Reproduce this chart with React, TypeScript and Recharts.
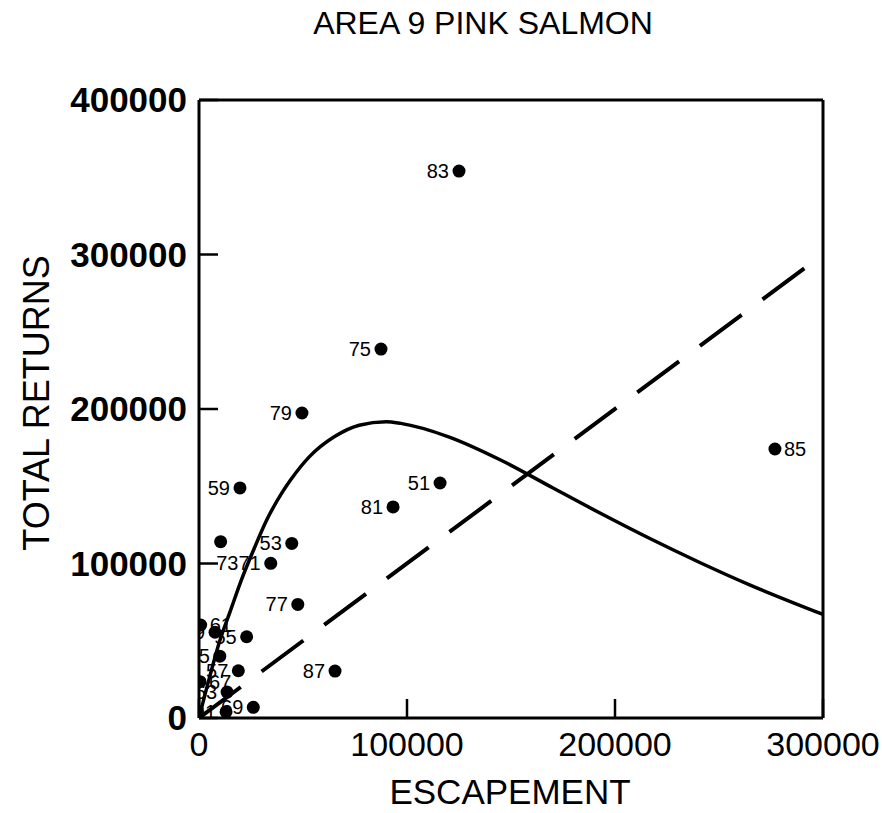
import { ComposedChart, Line, Scatter, XAxis, YAxis } from "recharts";

const FONT = '"Liberation Sans", Arial, Helvetica, sans-serif';
const TICK_LEN = 19;

// brood years (as printed next to each point)
const years = [
  "83", "75", "79", "85", "51", "81", "59", "", "53", "7371", "77", "87", "69",
  "61", "89", "55", "65", "57", "67", "91", "63",
];
const escapement = [
  125000, 87500, 49500, 276900, 115900, 93300, 19700, 10400, 44600, 34500, 47500, 65400, 26100,
  800, 7700, 22900, 10000, 18900, 500, 13000, 13500,
];
const totalReturns = [
  354000, 238800, 197400, 174100, 152100, 136600, 148900, 114100, 113000, 100100, 73500, 30400, 6900,
  60200, 55500, 52600, 40000, 30600, 23500, 4000, 16800,
];
// labels that sit to the right of their dot
const rightLabeled = ["85", "61", "67"];

// fitted stock-recruit curve
const curveEscapement = [
  0, 5000, 10000, 15000, 20000, 26000, 32500, 40000, 44000, 53000, 65000, 77000,
  90000, 97000, 120000, 145000, 170000, 193000, 217000, 241000, 265000, 300000,
];
const curveReturns = [
  0, 26000, 50000, 69000, 88000, 108000, 128000, 146000, 154000, 169000, 182000, 189500,
  191800, 190700, 182000, 167000, 149000, 132500, 116000, 100500, 86000, 67000,
];

// replacement line (returns = escapement)
const replacementEscapement = [0, 300000];

const xTicks = [0, 100000, 200000, 300000];
const yTicks = [0, 100000, 200000, 300000, 400000];

const points = years.map((year, i) => ({ s: escapement[i], r: totalReturns[i], year }));
const curve = curveEscapement.map((s, i) => ({ s, r: curveReturns[i] }));
const replacement = replacementEscapement.map((s) => ({ s, r: s }));

function BottomTick({ x, y, payload }: any) {
  return (
    <g>
      <line x1={x} y1={y} x2={x} y2={y - TICK_LEN} stroke="#000" strokeWidth={2.5} />
      <text x={x} y={y + 38} textAnchor="middle" fontSize={34} fontFamily={FONT} fill="#000">
        {payload.value}
      </text>
    </g>
  );
}

function LeftTick({ x, y, payload }: any) {
  return (
    <g>
      <line x1={x} y1={y} x2={x + TICK_LEN} y2={y} stroke="#000" strokeWidth={2.5} />
      <text
        x={x - 12}
        y={y + 12}
        textAnchor="end"
        fontSize={35}
        fontWeight="bold"
        fontFamily={FONT}
        fill="#000"
      >
        {payload.value}
      </text>
    </g>
  );
}

function TopTick({ x, y }: any) {
  return <line x1={x} y1={y} x2={x} y2={y + TICK_LEN} stroke="#000" strokeWidth={2.5} />;
}

function RightTick({ x, y }: any) {
  return <line x1={x} y1={y} x2={x - TICK_LEN} y2={y} stroke="#000" strokeWidth={2.5} />;
}

function YearDot({ cx, cy, payload }: any) {
  const right = rightLabeled.includes(payload.year);
  return (
    <g>
      <circle cx={cx} cy={cy} r={6.5} fill="#000" />
      <text
        x={right ? cx + 9 : cx - 10}
        y={cy + 7}
        textAnchor={right ? "start" : "end"}
        fontSize={20}
        fontFamily={FONT}
        fill="#000"
      >
        {payload.year}
      </text>
    </g>
  );
}

const axisLine = { stroke: "#000", strokeWidth: 3 };

export default function App() {
  return (
    <div style={{ position: "absolute", left: 0, top: 0, width: 882, height: 813, background: "#fff" }}>
      <ComposedChart
        width={882}
        height={813}
        margin={{ top: 99, right: 58, bottom: 0, left: 0 }}
      >
        <XAxis
          dataKey="s"
          type="number"
          domain={[0, 300000]}
          ticks={xTicks}
          allowDataOverflow
          height={95}
          axisLine={axisLine}
          tickLine={false}
          tickSize={0}
          tickMargin={0}
          tick={(p: any) => <BottomTick {...p} />}
        />
        <XAxis
          xAxisId="top"
          orientation="top"
          dataKey="s"
          type="number"
          domain={[0, 300000]}
          ticks={xTicks}
          height={1}
          axisLine={axisLine}
          tickLine={false}
          tickSize={0}
          tickMargin={0}
          tick={(p: any) => <TopTick {...p} />}
        />
        <YAxis
          type="number"
          domain={[0, 400000]}
          ticks={yTicks}
          allowDataOverflow
          width={199}
          axisLine={axisLine}
          tickLine={false}
          tickSize={0}
          tickMargin={0}
          tick={(p: any) => <LeftTick {...p} />}
        />
        <YAxis
          yAxisId="right"
          orientation="right"
          type="number"
          domain={[0, 400000]}
          ticks={yTicks}
          width={1}
          axisLine={axisLine}
          tickLine={false}
          tickSize={0}
          tickMargin={0}
          tick={(p: any) => <RightTick {...p} />}
        />
        <Line
          data={replacement}
          dataKey="r"
          type="linear"
          dot={false}
          stroke="#000"
          strokeWidth={4}
          strokeDasharray="52 26"
          isAnimationActive={false}
        />
        <Line
          data={curve}
          dataKey="r"
          type="monotone"
          dot={false}
          stroke="#000"
          strokeWidth={3.5}
          isAnimationActive={false}
        />
        <Scatter data={points} dataKey="r" shape={(p: any) => <YearDot {...p} />} isAnimationActive={false} />
      </ComposedChart>
      <svg
        width={882}
        height={813}
        style={{ position: "absolute", left: 0, top: 0, pointerEvents: "none" }}
      >
        <text x={483} y={34} textAnchor="middle" fontSize={32} fontFamily={FONT} fill="#000">
          AREA 9 PINK SALMON
        </text>
        <text x={510} y={804} textAnchor="middle" fontSize={35} fontFamily={FONT} fill="#000">
          ESCAPEMENT
        </text>
        <text
          x={0}
          y={0}
          transform="translate(49 403) rotate(-90)"
          textAnchor="middle"
          fontSize={36}
          fontFamily={FONT}
          fill="#000"
        >
          TOTAL RETURNS
        </text>
      </svg>
    </div>
  );
}
